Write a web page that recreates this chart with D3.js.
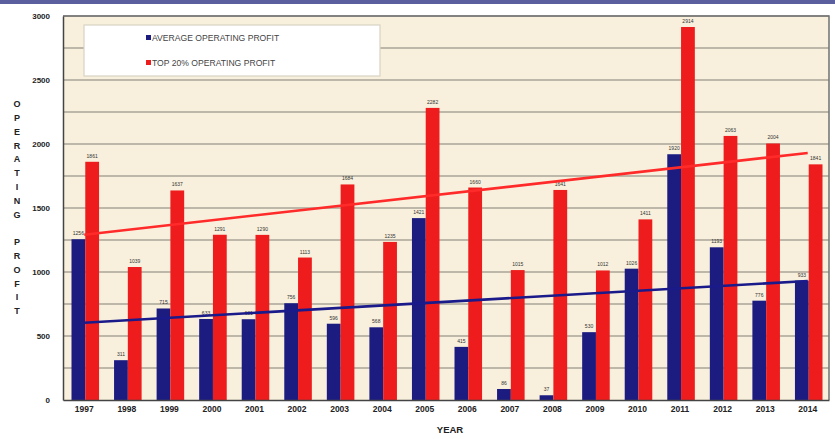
<!DOCTYPE html>
<html><head><meta charset="utf-8">
<script src="https://cdn.jsdelivr.net/npm/d3@7"></script>
<style>
html,body{margin:0;padding:0;background:#fff;}
svg{display:block;font-family:"Liberation Sans",Arial,sans-serif;}
</style></head>
<body>
<svg id="chart" width="835" height="439"></svg>
<script>
const years = ["1997","1998","1999","2000","2001","2002","2003","2004","2005","2006","2007","2008","2009","2010","2011","2012","2013","2014"];
const averageProfit = [1256,311,715,633,631,756,596,568,1421,415,86,37,530,1026,1920,1193,776,933];
const top20Profit = [1861,1039,1637,1291,1290,1113,1684,1235,2282,1660,1015,1641,1012,1411,2914,2063,2004,1841];
const seriesNames = ["AVERAGE OPERATING PROFIT","TOP 20% OPERATING PROFIT"];
const yTicks = [0,500,1000,1500,2000,2500,3000];
const yGrid = [250,500,750,1000,1250,1500,1750,2000,2250,2500,2750,3000];
const yAxisTitle = "OPERATING PROFIT";
const xAxisTitle = "YEAR";

const colors = {avg:"#1c1c80", top:"#ee1c1c", avgLine:"#1a1a8a", topLine:"#ff2a2a"};
const svg = d3.select("#chart");
const L = 63, R = 829, T = 16, B = 400;

// top banner
svg.append("rect").attr("x",0).attr("y",0).attr("width",835).attr("height",4).attr("fill","#5b5f9e");

const x0 = d3.scaleBand().domain(years).range([L,R]).padding(0);
const x1 = d3.scaleBand().domain(["avg","top"]).range([8.5, x0.bandwidth()-6.5]).padding(0);
const y = d3.scaleLinear().domain([0,3000]).range([B,T]);

// plot background
svg.append("rect").attr("x",L).attr("y",T).attr("width",R-L).attr("height",B-T).attr("fill","#f8f0dc");

// gridlines
svg.append("g").selectAll("line").data(yGrid).join("line")
  .attr("x1",L).attr("x2",R).attr("y1",d=>y(d)).attr("y2",d=>y(d))
  .attr("stroke","#a9a497").attr("stroke-width",1.3);

// legend box
const lg = svg.append("g");
lg.append("rect").attr("x",84).attr("y",25).attr("width",296).attr("height",51).attr("fill","#ffffff").attr("stroke","#d8d3c4").attr("stroke-width",1.2);
seriesNames.forEach((n,i)=>{
  const yy = i===0 ? 37.5 : 62.5;
  lg.append("rect").attr("x",146).attr("y",yy-2.5).attr("width",5).attr("height",5).attr("fill", i===0?colors.avg:colors.top);
  lg.append("text").attr("x",152).attr("y",yy).attr("dy","0.35em").attr("font-size",8.6).attr("fill","#444").text(n);
});

// bars
const groups = svg.append("g").selectAll("g").data(years).join("g").attr("transform",d=>`translate(${x0(d)},0)`);
groups.append("rect").attr("x",x1("avg")).attr("width",x1.bandwidth())
  .attr("y",(d,i)=>y(averageProfit[i])).attr("height",(d,i)=>B-y(averageProfit[i])).attr("fill",colors.avg);
groups.append("rect").attr("x",x1("top")).attr("width",x1.bandwidth())
  .attr("y",(d,i)=>y(top20Profit[i])).attr("height",(d,i)=>B-y(top20Profit[i])).attr("fill",colors.top);
groups.append("text").attr("x",x1("avg")+x1.bandwidth()/2).attr("y",(d,i)=>y(averageProfit[i])-4)
  .attr("text-anchor","middle").attr("font-size",5).attr("fill","#333").text((d,i)=>averageProfit[i]);
groups.append("text").attr("x",x1("top")+x1.bandwidth()/2).attr("y",(d,i)=>y(top20Profit[i])-4)
  .attr("text-anchor","middle").attr("font-size",5).attr("fill","#333").text((d,i)=>top20Profit[i]);

// linear trend lines (least squares from the data)
function trend(vals){
  const xs = vals.map((v,i)=>i);
  const mx = d3.mean(xs), my = d3.mean(vals);
  const sxy = d3.sum(xs,(xv,i)=>(xv-mx)*(vals[i]-my));
  const sxx = d3.sum(xs,xv=>(xv-mx)*(xv-mx));
  const b = sxy/sxx, a = my-b*mx;
  return [[0,a],[vals.length-1,a+b*(vals.length-1)]];
}
const line = d3.line().x(d=>x0(years[d[0]])+x0.bandwidth()/2).y(d=>y(d[1]));
svg.append("path").attr("d",line(trend(top20Profit))).attr("fill","none").attr("stroke",colors.topLine).attr("stroke-width",2.6);
svg.append("path").attr("d",line(trend(averageProfit))).attr("fill","none").attr("stroke",colors.avgLine).attr("stroke-width",2.6);

// frame
svg.append("path").attr("d",`M${L},${T}H${R}V${B}`).attr("fill","none").attr("stroke","#707070").attr("stroke-width",1.5);

// axes
const yAxis = d3.axisLeft(y).tickValues(yTicks).tickFormat(d3.format("d")).tickSize(0).tickPadding(13);
const gy = svg.append("g").attr("transform",`translate(${L},0)`).call(yAxis);
gy.select(".domain").attr("stroke","#444").attr("stroke-width",1.5);
gy.selectAll("text").attr("font-size",8).attr("font-weight","bold").attr("fill","#222").attr("font-family","Liberation Sans, Arial, sans-serif");

const xAxis = d3.axisBottom(x0).tickSize(0).tickPadding(6);
const gx = svg.append("g").attr("transform",`translate(0,${B})`).call(xAxis);
gx.select(".domain").attr("stroke","#444").attr("stroke-width",1.5);
gx.selectAll("text").attr("font-size",8.5).attr("font-weight","bold").attr("fill","#222").attr("font-family","Liberation Sans, Arial, sans-serif");

// axis titles
svg.append("text").attr("x",450).attr("y",433).attr("text-anchor","middle").attr("font-size",9.5).attr("font-weight","bold").attr("fill","#222").text(xAxisTitle);
const yt = svg.append("text").attr("text-anchor","middle").attr("font-size",9).attr("font-weight","bold").attr("fill","#222");
yAxisTitle.split("").forEach((ch,i)=>{
  yt.append("tspan").attr("x",17).attr("y",104+i*13.8).attr("dy","0.35em").text(ch===" "?"\u00a0":ch);
});
</script>
</body></html>
